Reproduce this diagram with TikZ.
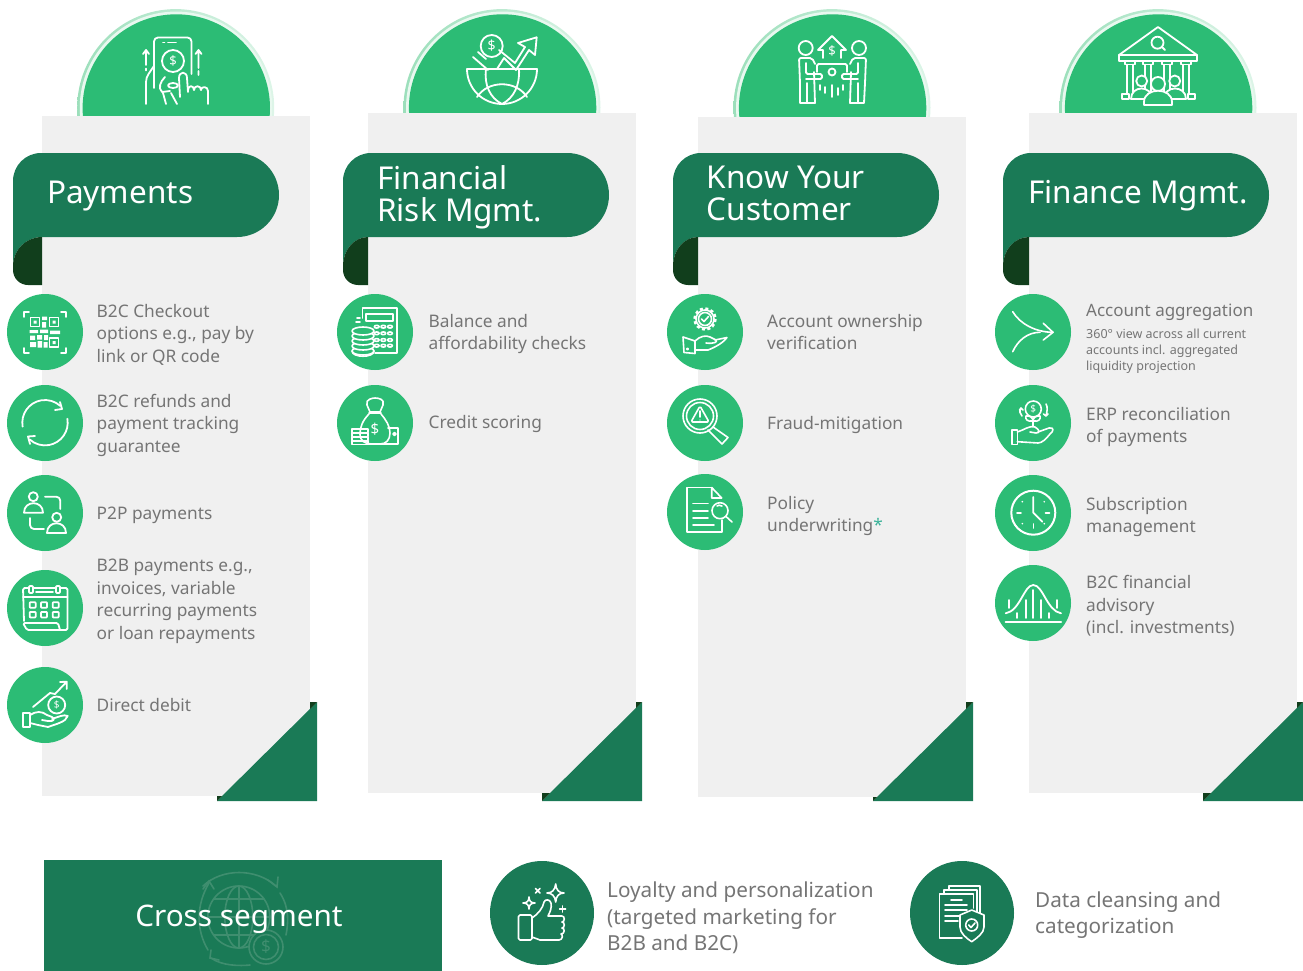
\documentclass[tikz,border=0pt]{standalone}
\usepackage{fontspec}
\setmainfont{Noto Sans}
\definecolor{cgreen}{HTML}{2CBC75}
\definecolor{rib}{HTML}{1A7A56}
\definecolor{fold}{HTML}{113E1C}
\definecolor{panel}{HTML}{F0F0F0}
\definecolor{txt}{HTML}{757575}
\definecolor{ringa}{HTML}{9CDFBB}
\definecolor{ringb}{HTML}{DDF5E8}
\definecolor{ringc}{HTML}{E8F8EF}
\definecolor{star}{HTML}{3CB39A}
\definecolor{wm}{HTML}{3F8E6F}
\tikzset{
  x=1pt,y=-1pt,
  itemc/.style={circle,fill=cgreen,minimum size=76pt,inner sep=0pt},
  darkc/.style={circle,fill=rib,minimum size=104pt,inner sep=0pt},
  itemt/.style={anchor=west,align=left,inner sep=0pt,text=txt,yshift=-2pt,font=\fontsize{17.3}{22.5}\selectfont},
  smallt/.style={anchor=west,align=left,inner sep=0pt,text=txt,yshift=-2pt,font=\fontsize{12.5}{16.2}\selectfont},
  bigt/.style={anchor=west,align=left,inner sep=0pt,text=txt,yshift=-2pt,font=\fontsize{20.7}{26.5}\selectfont},
  titlet/.style={anchor=west,align=left,inner sep=0pt,text=white,font=\fontsize{31.5}{32}\selectfont},
  icon/.style={white,line width=1.8pt,line cap=round,line join=round},
  iconb/.style={white,line width=1.6pt,line cap=round,line join=round},
  dollar/.style={text=white,inner sep=0pt,font=\fontsize{#1}{#1}\selectfont},
  dollar/.default=12
}
\newcommand{\colbase}[6]{%
  \pgfmathsetmacro{\w}{#2-#1}%
  \node[circle,left color=ringa,right color=ringb,minimum size=197pt,inner sep=0pt] (ringout#6) at (#4,107.6) {};
  \node[circle,fill=ringc,minimum size=192.5pt,inner sep=0pt] (ringmid#6) at (#4+0.3,107.8) {};
  \node[circle,fill=cgreen,minimum size=187.4pt,inner sep=0pt] (top#6) at (#4+0.6,108) {};
  \fill[panel] (#2,#3) rectangle (#2+268,#3+680);
  \fill[rib] (#5,801) -- (#5+100,702) -- (#5+100,801) -- cycle;
  \fill[fold] (#2+268,702) -- (#5+100,702) -- (#2+268,702+#5+100-#2-268) -- cycle;
  \fill[fold] (#5,#3+680) -- (#5+801-#3-680,#3+680) -- (#5,801) -- cycle;
  \fill[rib] (#1,181) arc[start angle=180,end angle=270,radius=28] -- (#1+224,153)
     arc[start angle=-90,end angle=90,radius=42] -- (#2,237)
     arc[start angle=-90,end angle=-180,x radius=\w,y radius=29] -- cycle;
  \fill[fold] (#2,237) arc[start angle=-90,end angle=-180,x radius=\w,y radius=29]
     -- (#1,270) arc[start angle=180,end angle=90,radius=15] -- (#2,285) -- cycle;
}
\begin{document}
\begin{tikzpicture}
\useasboundingbox (0,0) rectangle (1303,971);
\colbase{13}{42}{116}{175.7}{217}{a}
\colbase{343}{368}{113}{502}{542}{b}
\colbase{673}{698}{117}{832}{873}{c}
\colbase{1003}{1029}{113}{1158}{1203}{d}

% titles
\node[titlet] (ta) at (47,196) {Payments};
\node[titlet] (tb) at (377,197) {Financial\\Risk Mgmt.};
\node[titlet] (tc) at (706.5,193) {Know Your\\Customer};
\node[titlet] (td) at (1028,196) {Finance Mgmt.};

% item circles
\foreach \n/\x/\y in {a1/45/332,a2/45/423,a3/45/513,a4/45/608,a5/45/705,
  b1/375/332,b2/375/423,c1/705/332,c2/705/423,c3/705/512,
  d1/1033/332,d2/1033/423,d3/1033/513,d4/1033/603}
  \node[itemc] (\n) at (\x,\y) {};

% item texts
\node[itemt] (xa1) at (96.5,332.5) {B2C Checkout\\options e.g., pay by\\link or QR code};
\node[itemt] (xa2) at (96.5,423) {B2C refunds and\\payment tracking\\guarantee};
\node[itemt] (xa3) at (96.5,513) {P2P payments};
\node[itemt] (xa4) at (96.5,599.5) {B2B payments e.g.,\\invoices, variable\\recurring payments\\or loan repayments};
\node[itemt] (xa5) at (96.5,703.5) {Direct debit};
\node[itemt] (xb1) at (428.5,332) {Balance and\\affordability checks};
\node[itemt] (xb2) at (428.5,422) {Credit scoring};
\node[itemt] (xc1) at (767,330) {Account ownership\\verification};
\node[itemt] (xc2) at (767,423) {Fraud-mitigation};
\node[itemt] (xc3) at (767,514) {Policy\\underwriting\textcolor{star}{*}};
\node[itemt,font=\fontsize{17}{22.5}\selectfont] (xd1) at (1086,310) {Account aggregation};
\node[smallt] (xd1b) at (1086,349.5) {360° view across all current\\accounts incl. aggregated\\liquidity projection};
\node[itemt] (xd2) at (1086,425) {ERP reconciliation\\of payments};
\node[itemt] (xd3) at (1086,515) {Subscription\\management};
\node[itemt] (xd4) at (1086,604) {B2C financial\\advisory\\(incl. investments)};

% ---------- top icons
\begin{scope}[icon]
% payments
\draw[rounded corners=4pt] (154,88)--(154,37.5)--(191.5,37.5)--(191.5,74);
\draw (163,42.5)--(164.5,42.5) (168,42.5)--(176,42.5);
\draw (173,61) circle (11);
\node[dollar=13] at (173,61) {\$};
\draw (146,65)--(146,51) (143,54)--(146,50)--(149,54) (146,68.5)--(146,70.5);
\draw (198.5,68)--(198.5,51) (195.5,54)--(198.5,50)--(201.5,54) (198.5,71)--(198.5,75);
\draw (146,104)--(146,82) .. controls (146,76) and (150,72) .. (154,66);
\draw (165,77) .. controls (160,82) and (158,88) .. (162,92) -- (170,91);
\draw (180,97)--(179,78) .. controls (179,71) and (187,71) .. (187,78) -- (188,92);
\draw (188,90) .. controls (188,85) and (194,85) .. (194,90);
\draw (194,90) .. controls (194,85) and (201,85) .. (201,90);
\draw (201,90) .. controls (201,86) and (208,86) .. (208,91) -- (208,104);
\draw (163,93)--(166,104) (171,93)--(177,104);
\draw (173,85.5) ellipse (5 and 2.5);
% financial risk
\draw (467,69)--(537,69);
\draw (467,69) arc[start angle=180,end angle=0,radius=35,delta angle=-180];
\draw (486,69) .. controls (484,85) and (490,98) .. (502,104) .. controls (514,98) and (520,85) .. (519,69);
\draw (477,97) .. controls (488,80) and (516,80) .. (527,97);
\draw (491.7,46) circle (11);
\node[dollar=14] at (491.7,46) {\$};
\draw (473,57)--(488,70) (478,52)--(486,59);
\draw (499,50)--(515,63)--(525,47)--(518,43)--(536.7,37.3)--(535,55)--(529,50)--(516,70)--(504,58)--(497,69);
% KYC
\draw (805.7,48) circle (7); \draw (859,48) circle (7);
\draw[rounded corners=2pt] (800,83)--(799,58)--(812,58)--(815,64);
\draw[rounded corners=2pt] (865,83)--(866,58)--(853,58)--(850,64);
\draw (800,83)--(800,103)--(815,103)--(814,72);
\draw (807,83)--(807,103);
\draw (865,83)--(864,103)--(850,103)--(851,72);
\draw (858,83)--(858,103);
\draw[rounded corners=1.5pt] (806,63)--(806,74)--(822,74)--(822,79)--(806,79);
\draw[rounded corners=1.5pt] (858,63)--(858,74)--(842,74)--(842,79)--(858,79);
\draw[rounded corners=1.5pt] (817,72)--(817,64)--(847,64)--(847,72);
\draw (832,72) circle (3.5);
\draw (818,50)--(832,36)--(846,50)--(841,50)--(841,58) (818,50)--(823,50)--(823,58);
\node[dollar=13] at (832,51) {\$};
\draw (820,85)--(820,90) (825,87)--(825,93) (832,85)--(832,97) (838,88)--(838,95) (843,85)--(843,90);
% Bank
\draw (1119,55)--(1158,27)--(1197,55);
\draw (1119,55) rectangle (1197,61);
\draw (1157.5,42.7) circle (6); \draw (1162,47)--(1165,50);
\foreach \c in {1130,1148.3,1167,1186}{
  \draw (\c-5,61.5) rectangle (\c+5,64.5);
  \draw (\c-3,64.5)--(\c-3,94) (\c+3,64.5)--(\c+3,94);
}
\draw (1122,94) rectangle (1129,99); \draw (1188,94) rectangle (1195,99);
\filldraw[fill=cgreen] (1141.7,81) circle (5.5);
\filldraw[fill=cgreen] (1174.7,81) circle (5.5);
\filldraw[fill=cgreen] (1131,99) .. controls (1131,85) and (1152,85) .. (1152,99) -- cycle;
\filldraw[fill=cgreen] (1164,99) .. controls (1164,85) and (1186,85) .. (1186,99) -- cycle;
\filldraw[fill=cgreen] (1158,84) circle (7);
\filldraw[fill=cgreen] (1144,105) -- (1144,102) .. controls (1144,87) and (1172,87) .. (1172,102) -- (1172,105) -- cycle;
\end{scope}

% ---------- payments items
\begin{scope}[icon]
% QR
\draw (24,317)--(24,312)--(29,312) (61,312)--(66,312)--(66,317) (24,348)--(24,353)--(29,353) (61,353)--(66,353)--(66,348);
\draw (30.5,317.5) rectangle (39.5,326.5); \draw (49.5,317.5) rectangle (58.5,326.5); \draw (49.5,338) rectangle (58.5,347);
\fill (33.5,320.5) rectangle (36.5,323.5) (52.5,320.5) rectangle (55.5,323.5) (52.5,341) rectangle (55.5,344);
\fill (42,316.5) rectangle (47,320) (42,322) rectangle (46,327.5) (29.5,330) rectangle (38,333) (40,329.5) rectangle (48,333)
  (50,330.5) rectangle (60,334) (30,335.5) rectangle (35,340) (37,335) rectangle (42,339.5) (44,335) rectangle (48,340)
  (30,342) rectangle (36,347) (37.5,341) rectangle (42,347.5) (43.5,342) rectangle (47.5,347.5);
% refresh
\draw (45,422.7) ++(170:22.7) arc[start angle=170,end angle=312,radius=22.7];
\draw (45,422.7) ++(-10:22.7) arc[start angle=-10,end angle=132,radius=22.7];
\draw (55,410)--(62,409)--(60,402);
\draw (35,436)--(28,436.5)--(30,444);
% p2p
\draw (33.3,496.7) circle (4.5);
\draw (24,512.7) .. controls (24,500) and (43,500) .. (43,512.7) -- cycle;
\draw (56.7,517.3) circle (4.5);
\draw (47,533) .. controls (47,520) and (66,520) .. (66,533) -- cycle;
\draw[rounded corners=4pt] (45,496.7)--(60.3,496.7)--(60.3,509);
\draw[rounded corners=4pt] (30,518)--(30,529)--(44,529);
% calendar
\draw[rounded corners=1.5pt] (24,621)--(23,588)--(67.5,588)--(67.5,630)--(27,630)--(23,623)--(58,623)--(60,630);
\draw (23,597)--(67.5,597);
\fill[cgreen] (28.5,584.5) rectangle (33.5,594);\fill[cgreen] (55.5,584.5) rectangle (60.5,594);
\draw[rounded corners=1pt] (29,586)rectangle(33,593); \draw[rounded corners=1pt] (56,586) rectangle (60,593);
\draw (36,592)--(53,592);
\foreach \c in {32.7,44,55.7}\foreach \r in {605,614.7}
  \draw[rounded corners=0.8pt] (\c-3,\r-2.8) rectangle (\c+3,\r+2.8);
% direct debit
\draw (22.7,713) rectangle (30,727);
\draw (30,715) .. controls (36,711) and (42,711) .. (47,715) -- (52,717) .. controls (56,719) and (53,722) .. (48,721) -- (42,720);
\draw (52,719) .. controls (58,717) and (64,714) .. (67.7,716) .. controls (66,722) and (56,724) .. (48,727) -- (38,725) -- (30,723);
\draw (33,707)--(50,693)--(55,694)--(66.7,681.7) (60,682)--(66.7,681.7)--(66.7,689);
\filldraw[fill=cgreen] (56.7,705) circle (8.5);
\node[dollar=10] at (56.7,705) {\$};
\end{scope}

% ---------- risk items
\begin{scope}[iconb]
\draw (362.3,318)--(362.3,308)--(396.7,308)--(396.7,352.7)--(375,352.7);
\draw (366,314) rectangle (392.7,320.7);
\foreach \x in {376.7,383.3,390}\foreach \y in {326.7,333.3,340,345.7}
  \draw (\x,\y) ellipse (2.4 and 1.4);
\draw (357,318)--(360,318) (356,322)--(360,322);
\foreach \y in {351,346,341,336,331}{
  \filldraw[fill=cgreen] (363,\y) ellipse (11 and 4);
}
\draw (352,351) .. controls (352,358) and (374,358) .. (374,351);
% bag
\draw (367,405) .. controls (365,399) and (373,398) .. (375,398) .. controls (378,398) and (385,399) .. (383,405) -- (380,412) -- (370,412) -- cycle;
\draw (369,413) -- (381,413);
\draw (369,414) .. controls (362,421) and (360,428) .. (360,434) .. controls (360,441) and (365,444) .. (372,444) -- (380,444) .. controls (386,444) and (390,440) .. (390,433) .. controls (390,426) and (386,420) .. (381,414);
\node[dollar=15] at (375,429) {\$};
\foreach \y in {429,433,437,441}\draw (352,\y) rectangle (368,\y+3.4);
\draw (388,428)--(398,428)--(398,444)--(368,444);
\draw (394.5,434) circle (1.5);
% account ownership
\draw (705,319) circle (6.5);
\draw[dash pattern=on 3pt off 2.5pt,line width=2.5pt,line cap=butt] (705,319) circle (10.5);
\draw (705,319) circle (9);
\draw (701.5,319)--(704,321.5)--(708.5,316.5);
\draw (683,337)--(695,341)--(695,353.5)--(684,352.5)--cycle;
\draw (695,341) .. controls (700,336) and (706,335) .. (710,337) -- (716,340) .. controls (718,342) and (714,344) .. (706,343);
\draw (715,340) -- (727,337.5) .. controls (724,342) and (716,347) .. (708,350) -- (695,350);
\draw (687.5,349) circle (0.8);
% fraud
\draw (700,416) circle (17); \draw (700,416) circle (13.5);
\draw[rounded corners=1.5pt] (700,406)--(709,422)--(691,422)--cycle;
\draw (700,411)--(700,417); \fill (700,420) circle (0.7);
\draw (713,427)--(728,437.5)--(722,444)--(708,430);
% policy
\draw (711.7,487.5)--(687,487.5)--(687,532)--(721.7,532)--(721.7,520);
\draw (721.7,498)--(711.7,487.5)--(711.7,498)--cycle;
\foreach \y in {503.6,510.7,518}\draw (693,\y)--(708,\y);
\draw (693,525)--(714,525);
\filldraw[fill=cgreen] (720,510.7) circle (8);
\draw (717,506) .. controls (718,505) and (720,505) .. (722,506);
\draw (726,516.5)--(732,522);
% aggregation
\draw (1012.7,311.7) .. controls (1020,324) and (1036,332.3) .. (1053,332.3);
\draw (1012.7,351.7) .. controls (1018,340) and (1028,332.3) .. (1040,332.3);
\draw (1043.3,323.3)--(1053,332.3)--(1043.3,340);
% ERP
\draw (1033.3,409) circle (8);
\node[dollar=10] at (1033.3,409) {\$};
\draw (1021,408) .. controls (1019,411) and (1020,414) .. (1022,416) (1019.5,410)--(1021,408)--(1023,410);
\draw (1046,404) .. controls (1048,407) and (1047,412) .. (1046,416) (1043.5,414)--(1046,416)--(1048,414);
\draw (1033,418)--(1033,426);
\draw (1033,421) .. controls (1027,422) and (1025,419) .. (1026,416) .. controls (1030,415) and (1033,418) .. (1033,421);
\draw (1033,421) .. controls (1039,422) and (1041,419) .. (1040,416) .. controls (1036,415) and (1033,418) .. (1033,421);
\draw (1011.7,430) rectangle (1017.3,444.3);
\draw (1017.3,432) .. controls (1024,430) and (1030,425) .. (1035,427) .. controls (1040,430) and (1040,433) .. (1036,433) -- (1030,432);
\draw (1038,432) -- (1049,428) .. controls (1054,427) and (1054,431) .. (1050,434) .. controls (1046,439) and (1042,443) .. (1038,443) -- (1017.3,441.7);
% clock
\draw[line width=2pt] (1033.3,512.7) circle (22);
\draw[line width=1.8pt] (1033.3,497)--(1033.3,512.7)--(1042.3,521.7);
\draw (1033.3,524)--(1033.3,528) (1017,512.7)--(1021,512.7) (1045.5,512.7)--(1049.5,512.7);
\foreach \a in {45,135,225,315}\fill (1033.3,512.7) ++(\a:15.5) circle (0.9);
% bell
\draw[line width=2.2pt] (1005.7,621.7)--(1061,621.7);
\draw[line width=1.8pt] (1005.7,613.3) .. controls (1020,611) and (1024,585) .. (1033.3,585) .. controls (1043,585) and (1047,611) .. (1061,613.3);
\foreach \x/\t/\b in {1009/600/608,1017.3/613/618,1025.7/600/618,1033.3/590/618,1041/600/618,1049/613/618,1057.3/600/608}
  \draw[line width=1.8pt] (\x,\t)--(\x,\b);
\end{scope}

% ---------- bottom row
\fill[rib] (44,860) rectangle (442,971);
\begin{scope}[wm,line width=1.6pt,line cap=round]
\draw (238.8,917) circle (31);
\draw (238.8,917) ellipse (14 and 31);
\draw (238.8,886)--(238.8,948) (208,917)--(270,917);
\draw (214,899)--(264,899) (214,935)--(264,935);
\draw (203,886) .. controls (222,868) and (256,868) .. (276,886);
\draw (268,880)--(277,887)--(278,877);
\draw (209,883) .. controls (196,905) and (196,930) .. (208,950);
\draw (203,889)--(209,881)--(214,889);
\draw (280,893) .. controls (290,908) and (288,925) .. (286,935);
\draw (211,958) .. controls (222,966) and (240,966) .. (250,965);
\draw (211,950)--(210,958)--(219,960);
\filldraw[fill=rib] (266,947) circle (17);
\draw (266,947) circle (12.5);
\node[text=wm,inner sep=0pt,font=\fontsize{17}{17}\selectfont] at (266,947) {\$};
\end{scope}
\node[anchor=center,inner sep=0pt,text=white,font=\fontsize{29.7}{32}\selectfont] (xcross) at (239,919) {Cross segment};

\node[darkc] (e1) at (542,913) {};
\node[darkc] (e2) at (962,913) {};
\node[bigt] (xe1) at (607,916) {Loyalty and personalization\\(targeted marketing for\\B2B and B2C)};
\node[bigt] (xe2) at (1035,913) {Data cleansing and\\categorization};

\begin{scope}[iconb]
% thumbs up
\draw[rounded corners=1.5pt] (518.5,915) rectangle (532,940);
\draw (532,918) .. controls (538,914) and (543,908) .. (544,902) .. controls (545,899) and (550,899) .. (551,903) .. controls (552,908) and (550,912) .. (548,916) -- (562,916) .. controls (565,916) and (565,922) .. (562,922)
  .. controls (565,922) and (565,928) .. (562,928) .. controls (565,928) and (565,934) .. (561,934) .. controls (563,934) and (563,940) .. (559,940) -- (540,940) -- (532,937);
\draw (555.7,884) .. controls (556,890) and (559,893) .. (564,893) .. controls (559,893) and (556,896) .. (555.7,902) .. controls (555,896) and (552,893) .. (547,893) .. controls (552,893) and (555,890) .. (555.7,884) -- cycle;
\draw (529,897) .. controls (529,901) and (531,903) .. (535,903) .. controls (531,903) and (529,905) .. (529,909) .. controls (529,905) and (527,903) .. (523,903) .. controls (527,903) and (529,901) .. (529,897) -- cycle;
\draw (535.5,888.5)--(540,893) (540,888.5)--(535.5,893);
\draw (562.6,906)--(562.6,912) (559.6,909)--(565.6,909);
% documents
\draw (944,894)--(944,890)--(977,890)--(977,925);
\draw (949,890)--(949,886)--(980,886)--(980,918);
\draw (962,937.7)--(939.3,937.7)--(939.3,894)--(973.3,894)--(973.3,908);
\draw (951,900)--(962,900) (945,905)--(967,905) (945,910)--(967,910) (945,916)--(960,916) (945,921)--(958,921);
\filldraw[fill=rib] (971.7,910) -- (984,915) -- (984,927) .. controls (984,933) and (977,938) .. (971.7,941.7) .. controls (966,938) and (960,933) .. (960,927) -- (960,915) -- cycle;
\draw (971.7,925) circle (6);
\draw (968.7,925)--(971,927.5)--(975,923);
\end{scope}
\end{tikzpicture}
\end{document}
